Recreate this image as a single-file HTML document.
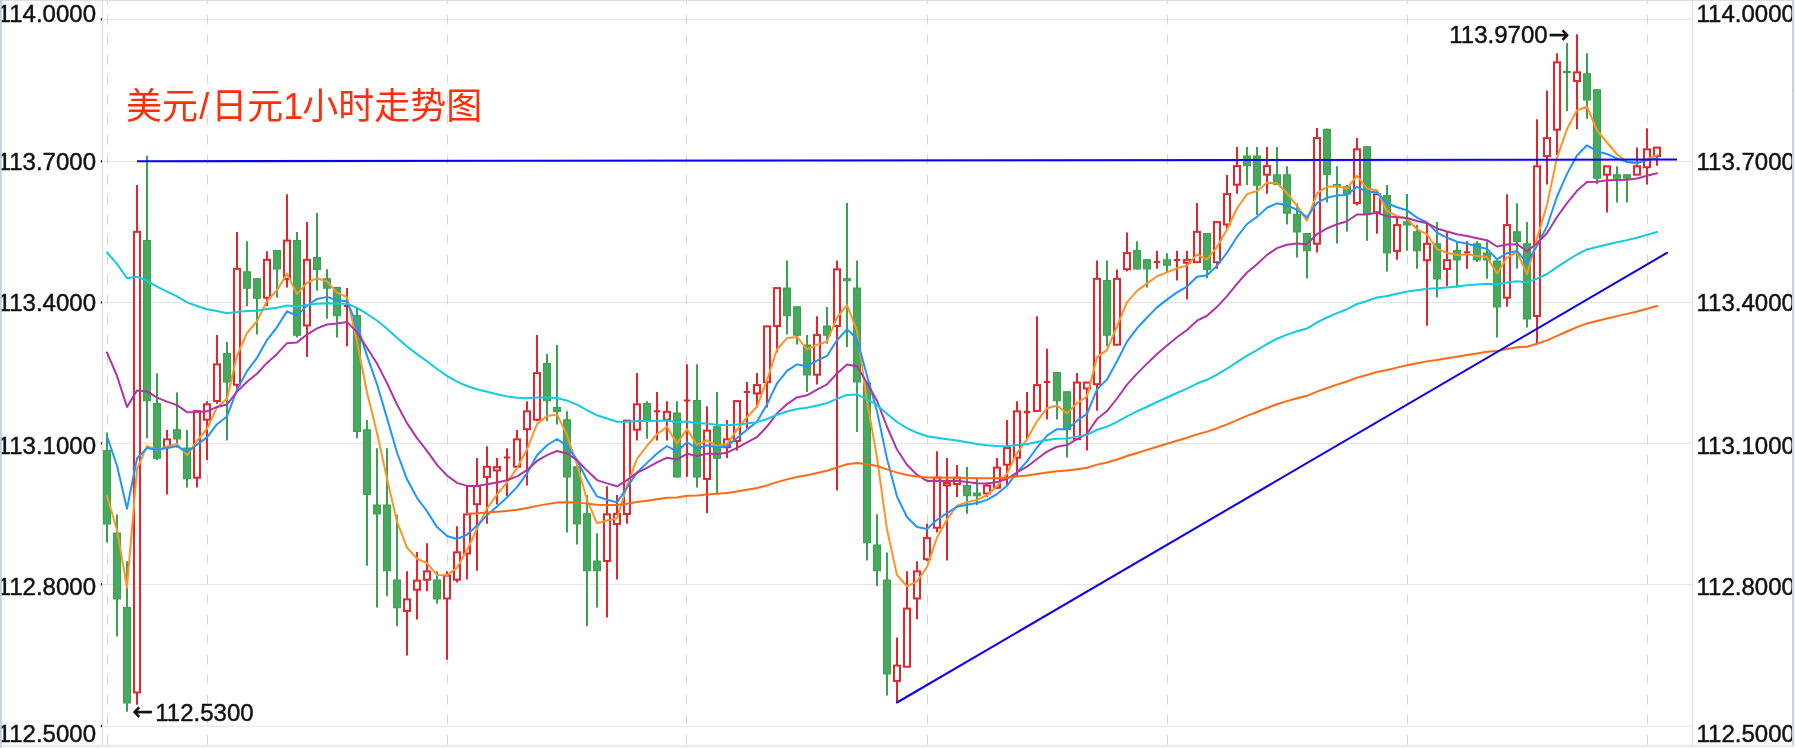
<!DOCTYPE html>
<html lang="zh"><head><meta charset="utf-8"><title>美元/日元1小时走势图</title>
<style>
html,body{margin:0;padding:0;background:#fff;}
body{width:1796px;height:748px;overflow:hidden;}
svg{display:block;will-change:transform;opacity:.9999}
.ax{font-family:"Liberation Sans","Noto Sans CJK SC",sans-serif;font-size:24px;fill:#111;stroke:#111;stroke-width:.45px;}
.an{font-size:24px}
.ar{font-family:"DejaVu Sans",sans-serif;font-size:25px;}
.title{font-family:"Liberation Sans","Noto Sans CJK SC",sans-serif;font-size:36px;fill:#ff2d08;}
</style></head><body>
<svg width="1796" height="748" viewBox="0 0 1796 748">
<rect x="0" y="0" width="1796" height="748" fill="#fff"/>
<path d="M103 19.5H1692" stroke="#e4e4e4" stroke-width="1"/>
<rect x="100.8" y="18.1" width="1.3" height="2.4" fill="#222"/>
<path d="M103 161.5H1692" stroke="#e4e4e4" stroke-width="1"/>
<rect x="100.8" y="160.1" width="1.3" height="2.4" fill="#222"/>
<path d="M103 302.5H1692" stroke="#e4e4e4" stroke-width="1"/>
<rect x="100.8" y="301.1" width="1.3" height="2.4" fill="#222"/>
<path d="M103 443.5H1692" stroke="#e4e4e4" stroke-width="1"/>
<rect x="100.8" y="442.1" width="1.3" height="2.4" fill="#222"/>
<path d="M103 584.5H1692" stroke="#e4e4e4" stroke-width="1"/>
<rect x="100.8" y="583.1" width="1.3" height="2.4" fill="#222"/>
<path d="M103 726.2H1692" stroke="#e4e4e4" stroke-width="1"/>
<rect x="100.8" y="724.8000000000001" width="1.3" height="2.4" fill="#222"/>
<path d="M107.5 744.5V0" stroke="#d6d6d6" stroke-width="1" stroke-dasharray="10 10"/>
<path d="M207.5 744.5V0" stroke="#d6d6d6" stroke-width="1" stroke-dasharray="10 10"/>
<path d="M447.5 744.5V0" stroke="#d6d6d6" stroke-width="1" stroke-dasharray="10 10"/>
<path d="M686.5 744.5V0" stroke="#d6d6d6" stroke-width="1" stroke-dasharray="10 10"/>
<path d="M927.5 744.5V0" stroke="#d6d6d6" stroke-width="1" stroke-dasharray="10 10"/>
<path d="M1167.5 744.5V0" stroke="#d6d6d6" stroke-width="1" stroke-dasharray="10 10"/>
<path d="M1407.5 744.5V0" stroke="#d6d6d6" stroke-width="1" stroke-dasharray="10 10"/>
<path d="M1647.5 744.5V0" stroke="#d6d6d6" stroke-width="1" stroke-dasharray="10 10"/>
<path d="M102.5 1V745" stroke="#dedede" stroke-width="1"/>
<path d="M1692.5 1V745" stroke="#dedede" stroke-width="1"/>
<path d="M107 432.5V542.5" stroke="#39a24d" stroke-width="2"/>
<rect x="103.5" y="450.5" width="7" height="73.5" fill="#47a95d" stroke="#39a24d" stroke-width="1"/>
<path d="M117 514.5V636.5" stroke="#39a24d" stroke-width="2"/>
<rect x="113.5" y="533" width="7" height="66" fill="#47a95d" stroke="#39a24d" stroke-width="1"/>
<path d="M127 561.25V711.75" stroke="#39a24d" stroke-width="2"/>
<rect x="123.5" y="607.5" width="7" height="95.5" fill="#47a95d" stroke="#39a24d" stroke-width="1"/>
<path d="M137 185V231.25" stroke="#e6242b" stroke-width="2"/>
<path d="M137 692.75V704.75" stroke="#e6242b" stroke-width="2"/>
<rect x="134" y="231.85" width="6" height="460.6" fill="#fff" stroke="#e6242b" stroke-width="2"/>
<path d="M147 155.75V438.25" stroke="#39a24d" stroke-width="2"/>
<rect x="143.5" y="240.5" width="7" height="160.25" fill="#47a95d" stroke="#39a24d" stroke-width="1"/>
<path d="M157 373.25V460" stroke="#39a24d" stroke-width="2"/>
<rect x="153.5" y="403.5" width="7" height="54.75" fill="#47a95d" stroke="#39a24d" stroke-width="1"/>
<path d="M167 430V438.75" stroke="#e6242b" stroke-width="2"/>
<path d="M167 447.5V494.5" stroke="#e6242b" stroke-width="2"/>
<rect x="164" y="439.35" width="6" height="7.85" fill="#fff" stroke="#e6242b" stroke-width="2"/>
<path d="M177 392.5V447.5" stroke="#39a24d" stroke-width="2"/>
<rect x="173.5" y="429.75" width="7" height="9.25" fill="#47a95d" stroke="#39a24d" stroke-width="1"/>
<path d="M187 430V487.5" stroke="#39a24d" stroke-width="2"/>
<rect x="183.5" y="448" width="7" height="30.75" fill="#47a95d" stroke="#39a24d" stroke-width="1"/>
<path d="M197 410V410.5" stroke="#e6242b" stroke-width="2"/>
<path d="M197 478V487.5" stroke="#e6242b" stroke-width="2"/>
<rect x="194" y="411.1" width="6" height="66.6" fill="#fff" stroke="#e6242b" stroke-width="2"/>
<path d="M207 401.25V403.75" stroke="#e6242b" stroke-width="2"/>
<path d="M207 420V460" stroke="#e6242b" stroke-width="2"/>
<rect x="204" y="404.35" width="6" height="15.35" fill="#fff" stroke="#e6242b" stroke-width="2"/>
<path d="M217 335V363.75" stroke="#e6242b" stroke-width="2"/>
<path d="M217 401.25V403.75" stroke="#e6242b" stroke-width="2"/>
<rect x="214" y="364.35" width="6" height="36.6" fill="#fff" stroke="#e6242b" stroke-width="2"/>
<path d="M227 342V440.5" stroke="#39a24d" stroke-width="2"/>
<rect x="223.5" y="353.5" width="7" height="28.5" fill="#47a95d" stroke="#39a24d" stroke-width="1"/>
<path d="M237 232V268.25" stroke="#e6242b" stroke-width="2"/>
<path d="M237 385V388.75" stroke="#e6242b" stroke-width="2"/>
<rect x="234" y="268.85" width="6" height="115.85" fill="#fff" stroke="#e6242b" stroke-width="2"/>
<path d="M247 241.25V306.25" stroke="#39a24d" stroke-width="2"/>
<rect x="243.5" y="271.75" width="7" height="16.5" fill="#47a95d" stroke="#39a24d" stroke-width="1"/>
<path d="M257 278.25V334.5" stroke="#39a24d" stroke-width="2"/>
<rect x="253.5" y="278.75" width="7" height="19.5" fill="#47a95d" stroke="#39a24d" stroke-width="1"/>
<path d="M267 251.25V259.25" stroke="#e6242b" stroke-width="2"/>
<path d="M267 298V306" stroke="#e6242b" stroke-width="2"/>
<rect x="264" y="259.85" width="6" height="37.85" fill="#fff" stroke="#e6242b" stroke-width="2"/>
<path d="M277 250V297.5" stroke="#39a24d" stroke-width="2"/>
<rect x="273.5" y="250.5" width="7" height="18.5" fill="#47a95d" stroke="#39a24d" stroke-width="1"/>
<path d="M287 194.25V240" stroke="#e6242b" stroke-width="2"/>
<path d="M287 279.25V287.5" stroke="#e6242b" stroke-width="2"/>
<rect x="284" y="240.6" width="6" height="38.35" fill="#fff" stroke="#e6242b" stroke-width="2"/>
<path d="M297 232V337.5" stroke="#39a24d" stroke-width="2"/>
<rect x="293.5" y="240.5" width="7" height="94.75" fill="#47a95d" stroke="#39a24d" stroke-width="1"/>
<path d="M307 222V259.25" stroke="#e6242b" stroke-width="2"/>
<path d="M307 325.75V357" stroke="#e6242b" stroke-width="2"/>
<rect x="304" y="259.85" width="6" height="65.6" fill="#fff" stroke="#e6242b" stroke-width="2"/>
<path d="M317 213V290.75" stroke="#39a24d" stroke-width="2"/>
<rect x="313.5" y="257.5" width="7" height="12" fill="#47a95d" stroke="#39a24d" stroke-width="1"/>
<path d="M327 269.25V318.75" stroke="#39a24d" stroke-width="2"/>
<rect x="323.5" y="278.75" width="7" height="9.5" fill="#47a95d" stroke="#39a24d" stroke-width="1"/>
<path d="M337 287V337.5" stroke="#39a24d" stroke-width="2"/>
<rect x="333.5" y="287.5" width="7" height="28.25" fill="#47a95d" stroke="#39a24d" stroke-width="1"/>
<path d="M347 288V306" stroke="#e6242b" stroke-width="2"/>
<path d="M347 306V346.25" stroke="#e6242b" stroke-width="2"/>
<path d="M343.8 306H350.2" stroke="#e6242b" stroke-width="2"/>
<path d="M357 307.5V438.25" stroke="#39a24d" stroke-width="2"/>
<rect x="353.5" y="315.5" width="7" height="116" fill="#47a95d" stroke="#39a24d" stroke-width="1"/>
<path d="M367 420V565.75" stroke="#39a24d" stroke-width="2"/>
<rect x="363.5" y="429.75" width="7" height="64.75" fill="#47a95d" stroke="#39a24d" stroke-width="1"/>
<path d="M377 448.25V607.5" stroke="#39a24d" stroke-width="2"/>
<rect x="373.5" y="505" width="7" height="9" fill="#47a95d" stroke="#39a24d" stroke-width="1"/>
<path d="M387 448.25V596.25" stroke="#39a24d" stroke-width="2"/>
<rect x="383.5" y="505" width="7" height="65.75" fill="#47a95d" stroke="#39a24d" stroke-width="1"/>
<path d="M397 514.5V626.25" stroke="#39a24d" stroke-width="2"/>
<rect x="393.5" y="580" width="7" height="27.75" fill="#47a95d" stroke="#39a24d" stroke-width="1"/>
<path d="M407 571.25V598.75" stroke="#e6242b" stroke-width="2"/>
<path d="M407 611.25V655.5" stroke="#e6242b" stroke-width="2"/>
<rect x="404" y="599.35" width="6" height="11.6" fill="#fff" stroke="#e6242b" stroke-width="2"/>
<path d="M417 552V580" stroke="#e6242b" stroke-width="2"/>
<path d="M417 590V619.5" stroke="#e6242b" stroke-width="2"/>
<rect x="414" y="580.6" width="6" height="9.1" fill="#fff" stroke="#e6242b" stroke-width="2"/>
<path d="M427 543.25V570.75" stroke="#e6242b" stroke-width="2"/>
<path d="M427 580V591.25" stroke="#e6242b" stroke-width="2"/>
<rect x="424" y="571.35" width="6" height="8.35" fill="#fff" stroke="#e6242b" stroke-width="2"/>
<path d="M437 571.25V603.75" stroke="#39a24d" stroke-width="2"/>
<rect x="433.5" y="580" width="7" height="19" fill="#47a95d" stroke="#39a24d" stroke-width="1"/>
<path d="M447 571.25V575" stroke="#e6242b" stroke-width="2"/>
<path d="M447 598.75V659.75" stroke="#e6242b" stroke-width="2"/>
<rect x="444" y="575.6" width="6" height="22.85" fill="#fff" stroke="#e6242b" stroke-width="2"/>
<path d="M457 526.25V551.75" stroke="#e6242b" stroke-width="2"/>
<path d="M457 580V582.5" stroke="#e6242b" stroke-width="2"/>
<rect x="454" y="552.35" width="6" height="27.35" fill="#fff" stroke="#e6242b" stroke-width="2"/>
<path d="M467 485.5V513.75" stroke="#e6242b" stroke-width="2"/>
<path d="M467 553.75V579.5" stroke="#e6242b" stroke-width="2"/>
<rect x="464" y="514.35" width="6" height="39.1" fill="#fff" stroke="#e6242b" stroke-width="2"/>
<path d="M477 458V485.5" stroke="#e6242b" stroke-width="2"/>
<path d="M477 504.5V570.75" stroke="#e6242b" stroke-width="2"/>
<rect x="474" y="486.1" width="6" height="18.1" fill="#fff" stroke="#e6242b" stroke-width="2"/>
<path d="M487 446.25V466.25" stroke="#e6242b" stroke-width="2"/>
<path d="M487 477.2V523.75" stroke="#e6242b" stroke-width="2"/>
<rect x="484" y="466.85" width="6" height="10.05" fill="#fff" stroke="#e6242b" stroke-width="2"/>
<path d="M497 458V466.5" stroke="#e6242b" stroke-width="2"/>
<path d="M497 470.75V504.5" stroke="#e6242b" stroke-width="2"/>
<rect x="494" y="467.1" width="6" height="3.35" fill="#fff" stroke="#e6242b" stroke-width="2"/>
<path d="M507 448.25V457.5" stroke="#e6242b" stroke-width="2"/>
<path d="M507 457.5V496.25" stroke="#e6242b" stroke-width="2"/>
<path d="M503.8 457.5H510.2" stroke="#e6242b" stroke-width="2"/>
<path d="M517 430V438.75" stroke="#e6242b" stroke-width="2"/>
<rect x="514" y="439.35" width="6" height="27.35" fill="#fff" stroke="#e6242b" stroke-width="2"/>
<path d="M527 401.25V410.75" stroke="#e6242b" stroke-width="2"/>
<path d="M527 429.5V485.5" stroke="#e6242b" stroke-width="2"/>
<rect x="524" y="411.35" width="6" height="17.85" fill="#fff" stroke="#e6242b" stroke-width="2"/>
<path d="M537 335V372.5" stroke="#e6242b" stroke-width="2"/>
<path d="M537 420V421.25" stroke="#e6242b" stroke-width="2"/>
<rect x="534" y="373.1" width="6" height="46.6" fill="#fff" stroke="#e6242b" stroke-width="2"/>
<path d="M547 354V421.25" stroke="#39a24d" stroke-width="2"/>
<rect x="543.5" y="363.5" width="7" height="37.25" fill="#47a95d" stroke="#39a24d" stroke-width="1"/>
<path d="M557 345V424.5" stroke="#39a24d" stroke-width="2"/>
<rect x="553.5" y="407.5" width="7" height="4" fill="#47a95d" stroke="#39a24d" stroke-width="1"/>
<path d="M567 411.25V532.5" stroke="#39a24d" stroke-width="2"/>
<rect x="563.5" y="419.75" width="7" height="57.25" fill="#47a95d" stroke="#39a24d" stroke-width="1"/>
<path d="M577 466.25V544.5" stroke="#39a24d" stroke-width="2"/>
<rect x="573.5" y="466.75" width="7" height="57.25" fill="#47a95d" stroke="#39a24d" stroke-width="1"/>
<path d="M587 495V626.25" stroke="#39a24d" stroke-width="2"/>
<rect x="583.5" y="513.75" width="7" height="57" fill="#47a95d" stroke="#39a24d" stroke-width="1"/>
<path d="M597 533.25V607.5" stroke="#39a24d" stroke-width="2"/>
<rect x="593.5" y="561" width="7" height="9.75" fill="#47a95d" stroke="#39a24d" stroke-width="1"/>
<path d="M607 486.25V513.75" stroke="#e6242b" stroke-width="2"/>
<path d="M607 561.25V617.5" stroke="#e6242b" stroke-width="2"/>
<rect x="604" y="514.35" width="6" height="46.6" fill="#fff" stroke="#e6242b" stroke-width="2"/>
<path d="M617 495V513.25" stroke="#e6242b" stroke-width="2"/>
<path d="M617 524.25V579.5" stroke="#e6242b" stroke-width="2"/>
<rect x="614" y="513.85" width="6" height="10.1" fill="#fff" stroke="#e6242b" stroke-width="2"/>
<path d="M627 514.25V523.75" stroke="#e6242b" stroke-width="2"/>
<rect x="624" y="420.6" width="6" height="93.35" fill="#fff" stroke="#e6242b" stroke-width="2"/>
<path d="M637 373V403.75" stroke="#e6242b" stroke-width="2"/>
<path d="M637 430V440.5" stroke="#e6242b" stroke-width="2"/>
<rect x="634" y="404.35" width="6" height="25.35" fill="#fff" stroke="#e6242b" stroke-width="2"/>
<path d="M647 401.25V438.75" stroke="#39a24d" stroke-width="2"/>
<rect x="643.5" y="403.5" width="7" height="16.5" fill="#47a95d" stroke="#39a24d" stroke-width="1"/>
<path d="M657 392V411.25" stroke="#e6242b" stroke-width="2"/>
<path d="M657 411.25V440.5" stroke="#e6242b" stroke-width="2"/>
<path d="M653.8 411.25H660.2" stroke="#e6242b" stroke-width="2"/>
<path d="M667 401.25V411.25" stroke="#e6242b" stroke-width="2"/>
<path d="M667 420V440.5" stroke="#e6242b" stroke-width="2"/>
<rect x="664" y="411.85" width="6" height="7.85" fill="#fff" stroke="#e6242b" stroke-width="2"/>
<path d="M677 401.25V477.5" stroke="#39a24d" stroke-width="2"/>
<rect x="673.5" y="413" width="7" height="64" fill="#47a95d" stroke="#39a24d" stroke-width="1"/>
<path d="M687 364.25V400.5" stroke="#e6242b" stroke-width="2"/>
<path d="M687 400.5V476.75" stroke="#e6242b" stroke-width="2"/>
<path d="M683.8 400.5H690.2" stroke="#e6242b" stroke-width="2"/>
<path d="M697 364.25V487.5" stroke="#39a24d" stroke-width="2"/>
<rect x="693.5" y="400.5" width="7" height="76.5" fill="#47a95d" stroke="#39a24d" stroke-width="1"/>
<path d="M707 406.25V430" stroke="#e6242b" stroke-width="2"/>
<path d="M707 479.25V513.25" stroke="#e6242b" stroke-width="2"/>
<rect x="704" y="430.6" width="6" height="48.35" fill="#fff" stroke="#e6242b" stroke-width="2"/>
<path d="M717 392V493.75" stroke="#39a24d" stroke-width="2"/>
<rect x="713.5" y="426.75" width="7" height="31.5" fill="#47a95d" stroke="#39a24d" stroke-width="1"/>
<path d="M727 420V438.75" stroke="#e6242b" stroke-width="2"/>
<path d="M727 447.5V458" stroke="#e6242b" stroke-width="2"/>
<rect x="724" y="439.35" width="6" height="7.85" fill="#fff" stroke="#e6242b" stroke-width="2"/>
<path d="M737 441.25V450.5" stroke="#e6242b" stroke-width="2"/>
<rect x="734" y="401.1" width="6" height="39.85" fill="#fff" stroke="#e6242b" stroke-width="2"/>
<path d="M747 382V392" stroke="#e6242b" stroke-width="2"/>
<path d="M747 392V428.75" stroke="#e6242b" stroke-width="2"/>
<path d="M743.8 392H750.2" stroke="#e6242b" stroke-width="2"/>
<path d="M757 373V384.5" stroke="#e6242b" stroke-width="2"/>
<path d="M757 393.75V407.5" stroke="#e6242b" stroke-width="2"/>
<rect x="754" y="385.1" width="6" height="8.35" fill="#fff" stroke="#e6242b" stroke-width="2"/>
<path d="M767 382.5V407.5" stroke="#e6242b" stroke-width="2"/>
<rect x="764" y="326.35" width="6" height="55.85" fill="#fff" stroke="#e6242b" stroke-width="2"/>
<path d="M777 326.25V352.5" stroke="#e6242b" stroke-width="2"/>
<rect x="774" y="288.1" width="6" height="37.85" fill="#fff" stroke="#e6242b" stroke-width="2"/>
<path d="M787 260.5V334.5" stroke="#39a24d" stroke-width="2"/>
<rect x="783.5" y="288" width="7" height="27.75" fill="#47a95d" stroke="#39a24d" stroke-width="1"/>
<path d="M797 306.25V344.5" stroke="#39a24d" stroke-width="2"/>
<rect x="793.5" y="306.75" width="7" height="28.5" fill="#47a95d" stroke="#39a24d" stroke-width="1"/>
<path d="M807 335V392" stroke="#39a24d" stroke-width="2"/>
<rect x="803.5" y="345" width="7" height="30" fill="#47a95d" stroke="#39a24d" stroke-width="1"/>
<path d="M817 316.25V334.5" stroke="#e6242b" stroke-width="2"/>
<path d="M817 375V384.5" stroke="#e6242b" stroke-width="2"/>
<rect x="814" y="335.1" width="6" height="39.6" fill="#fff" stroke="#e6242b" stroke-width="2"/>
<path d="M827 307V343.75" stroke="#39a24d" stroke-width="2"/>
<rect x="823.5" y="326" width="7" height="9.25" fill="#47a95d" stroke="#39a24d" stroke-width="1"/>
<path d="M837 260.5V268.75" stroke="#e6242b" stroke-width="2"/>
<path d="M837 326.25V490.5" stroke="#e6242b" stroke-width="2"/>
<rect x="834" y="269.35" width="6" height="56.6" fill="#fff" stroke="#e6242b" stroke-width="2"/>
<path d="M847 203V347" stroke="#39a24d" stroke-width="2"/>
<rect x="843.5" y="278.75" width="7" height="2" fill="#47a95d" stroke="#39a24d" stroke-width="1"/>
<path d="M857 260.5V432" stroke="#39a24d" stroke-width="2"/>
<rect x="853.5" y="288" width="7" height="94" fill="#47a95d" stroke="#39a24d" stroke-width="1"/>
<path d="M867 382.5V560.5" stroke="#39a24d" stroke-width="2"/>
<rect x="863.5" y="383" width="7" height="159.75" fill="#47a95d" stroke="#39a24d" stroke-width="1"/>
<path d="M877 514.25V586.25" stroke="#39a24d" stroke-width="2"/>
<rect x="873.5" y="545" width="7" height="25.75" fill="#47a95d" stroke="#39a24d" stroke-width="1"/>
<path d="M887 552.5V695.5" stroke="#39a24d" stroke-width="2"/>
<rect x="883.5" y="580" width="7" height="94" fill="#47a95d" stroke="#39a24d" stroke-width="1"/>
<path d="M897 637.5V665" stroke="#e6242b" stroke-width="2"/>
<path d="M897 681.25V702.5" stroke="#e6242b" stroke-width="2"/>
<rect x="894" y="665.6" width="6" height="15.35" fill="#fff" stroke="#e6242b" stroke-width="2"/>
<path d="M907 571.25V608" stroke="#e6242b" stroke-width="2"/>
<rect x="904" y="608.6" width="6" height="58.1" fill="#fff" stroke="#e6242b" stroke-width="2"/>
<path d="M917 561.25V570.75" stroke="#e6242b" stroke-width="2"/>
<path d="M917 598.75V619.25" stroke="#e6242b" stroke-width="2"/>
<rect x="914" y="571.35" width="6" height="27.1" fill="#fff" stroke="#e6242b" stroke-width="2"/>
<path d="M927 523.75V537.5" stroke="#e6242b" stroke-width="2"/>
<path d="M927 559.5V561" stroke="#e6242b" stroke-width="2"/>
<rect x="924" y="538.1" width="6" height="21.1" fill="#fff" stroke="#e6242b" stroke-width="2"/>
<path d="M937 451.25V477" stroke="#e6242b" stroke-width="2"/>
<path d="M937 528V532.5" stroke="#e6242b" stroke-width="2"/>
<rect x="934" y="477.6" width="6" height="50.1" fill="#fff" stroke="#e6242b" stroke-width="2"/>
<path d="M947 458V482.5" stroke="#e6242b" stroke-width="2"/>
<path d="M947 485.75V560.5" stroke="#e6242b" stroke-width="2"/>
<rect x="944" y="483.1" width="6" height="2.35" fill="#fff" stroke="#e6242b" stroke-width="2"/>
<path d="M957 465V477" stroke="#e6242b" stroke-width="2"/>
<path d="M957 484.25V497" stroke="#e6242b" stroke-width="2"/>
<rect x="954" y="477.6" width="6" height="6.35" fill="#fff" stroke="#e6242b" stroke-width="2"/>
<path d="M967 467V513.75" stroke="#39a24d" stroke-width="2"/>
<rect x="963.5" y="485.5" width="7" height="10.25" fill="#47a95d" stroke="#39a24d" stroke-width="1"/>
<path d="M977 477V505" stroke="#39a24d" stroke-width="2"/>
<rect x="973.5" y="493" width="7" height="2.75" fill="#47a95d" stroke="#39a24d" stroke-width="1"/>
<path d="M987 482.5V485" stroke="#e6242b" stroke-width="2"/>
<path d="M987 493.75V497" stroke="#e6242b" stroke-width="2"/>
<rect x="984" y="485.6" width="6" height="7.85" fill="#fff" stroke="#e6242b" stroke-width="2"/>
<path d="M997 458V467" stroke="#e6242b" stroke-width="2"/>
<path d="M997 488V488.75" stroke="#e6242b" stroke-width="2"/>
<rect x="994" y="467.6" width="6" height="20.1" fill="#fff" stroke="#e6242b" stroke-width="2"/>
<path d="M1007 420V447.5" stroke="#e6242b" stroke-width="2"/>
<path d="M1007 465V485" stroke="#e6242b" stroke-width="2"/>
<rect x="1004" y="448.1" width="6" height="16.6" fill="#fff" stroke="#e6242b" stroke-width="2"/>
<path d="M1017 401.25V410.75" stroke="#e6242b" stroke-width="2"/>
<path d="M1017 458V477" stroke="#e6242b" stroke-width="2"/>
<rect x="1014" y="411.35" width="6" height="46.35" fill="#fff" stroke="#e6242b" stroke-width="2"/>
<path d="M1027 392V412" stroke="#e6242b" stroke-width="2"/>
<path d="M1027 412V440.5" stroke="#e6242b" stroke-width="2"/>
<path d="M1023.8 412H1030.2" stroke="#e6242b" stroke-width="2.5"/>
<path d="M1037 316.25V384.5" stroke="#e6242b" stroke-width="2"/>
<rect x="1034" y="385.1" width="6" height="25.85" fill="#fff" stroke="#e6242b" stroke-width="2"/>
<path d="M1047 348.75V382" stroke="#e6242b" stroke-width="2"/>
<path d="M1047 382V419.5" stroke="#e6242b" stroke-width="2"/>
<path d="M1043.8 382H1050.2" stroke="#e6242b" stroke-width="2"/>
<path d="M1057 372V419.5" stroke="#39a24d" stroke-width="2"/>
<rect x="1053.5" y="372.5" width="7" height="28.25" fill="#47a95d" stroke="#39a24d" stroke-width="1"/>
<path d="M1067 391.25V457.5" stroke="#39a24d" stroke-width="2"/>
<rect x="1063.5" y="391.75" width="7" height="37.75" fill="#47a95d" stroke="#39a24d" stroke-width="1"/>
<path d="M1077 373V382" stroke="#e6242b" stroke-width="2"/>
<rect x="1074" y="382.6" width="6" height="56.6" fill="#fff" stroke="#e6242b" stroke-width="2"/>
<path d="M1087 388.75V450.5" stroke="#e6242b" stroke-width="2"/>
<rect x="1084" y="382.6" width="6" height="5.85" fill="#fff" stroke="#e6242b" stroke-width="2"/>
<path d="M1097 260.5V278.25" stroke="#e6242b" stroke-width="2"/>
<path d="M1097 384.5V410.75" stroke="#e6242b" stroke-width="2"/>
<rect x="1094" y="278.85" width="6" height="105.35" fill="#fff" stroke="#e6242b" stroke-width="2"/>
<path d="M1107 260.5V346.25" stroke="#39a24d" stroke-width="2"/>
<rect x="1103.5" y="280.5" width="7" height="54.75" fill="#47a95d" stroke="#39a24d" stroke-width="1"/>
<path d="M1117 269.5V278.25" stroke="#e6242b" stroke-width="2"/>
<rect x="1114" y="278.85" width="6" height="65.85" fill="#fff" stroke="#e6242b" stroke-width="2"/>
<path d="M1127 232.5V252.5" stroke="#e6242b" stroke-width="2"/>
<path d="M1127 269.5V271.25" stroke="#e6242b" stroke-width="2"/>
<rect x="1124" y="253.1" width="6" height="16.1" fill="#fff" stroke="#e6242b" stroke-width="2"/>
<path d="M1137 241.25V269.5" stroke="#39a24d" stroke-width="2"/>
<rect x="1133.5" y="250.5" width="7" height="18.5" fill="#47a95d" stroke="#39a24d" stroke-width="1"/>
<path d="M1147 259.25V287.5" stroke="#39a24d" stroke-width="2"/>
<rect x="1143.5" y="259.75" width="7" height="9.25" fill="#47a95d" stroke="#39a24d" stroke-width="1"/>
<path d="M1157 250.75V262" stroke="#e6242b" stroke-width="2"/>
<path d="M1157 262V268.75" stroke="#e6242b" stroke-width="2"/>
<path d="M1153.8 262H1160.2" stroke="#e6242b" stroke-width="2"/>
<path d="M1167 253.25V272.5" stroke="#39a24d" stroke-width="2"/>
<rect x="1163.5" y="259.75" width="7" height="5.5" fill="#47a95d" stroke="#39a24d" stroke-width="1"/>
<path d="M1177 250.75V260" stroke="#e6242b" stroke-width="2"/>
<path d="M1177 260V280.5" stroke="#e6242b" stroke-width="2"/>
<path d="M1173.8 260H1180.2" stroke="#e6242b" stroke-width="2"/>
<path d="M1187 250.75V259.25" stroke="#e6242b" stroke-width="2"/>
<path d="M1187 263V299.5" stroke="#e6242b" stroke-width="2"/>
<rect x="1184" y="259.85" width="6" height="2.85" fill="#fff" stroke="#e6242b" stroke-width="2"/>
<path d="M1197 203V231.25" stroke="#e6242b" stroke-width="2"/>
<rect x="1194" y="231.85" width="6" height="30.35" fill="#fff" stroke="#e6242b" stroke-width="2"/>
<path d="M1207 233V278.25" stroke="#39a24d" stroke-width="2"/>
<rect x="1203.5" y="233.5" width="7" height="36" fill="#47a95d" stroke="#39a24d" stroke-width="1"/>
<path d="M1217 262.5V268.75" stroke="#e6242b" stroke-width="2"/>
<rect x="1214" y="222.1" width="6" height="40.1" fill="#fff" stroke="#e6242b" stroke-width="2"/>
<path d="M1227 175V193.5" stroke="#e6242b" stroke-width="2"/>
<path d="M1227 224.75V230" stroke="#e6242b" stroke-width="2"/>
<rect x="1224" y="194.1" width="6" height="30.35" fill="#fff" stroke="#e6242b" stroke-width="2"/>
<path d="M1237 147V165.5" stroke="#e6242b" stroke-width="2"/>
<path d="M1237 185V193.75" stroke="#e6242b" stroke-width="2"/>
<rect x="1234" y="166.1" width="6" height="18.6" fill="#fff" stroke="#e6242b" stroke-width="2"/>
<path d="M1247 147V185" stroke="#39a24d" stroke-width="2"/>
<rect x="1243.5" y="156" width="7" height="9.75" fill="#47a95d" stroke="#39a24d" stroke-width="1"/>
<path d="M1257 147V215" stroke="#39a24d" stroke-width="2"/>
<rect x="1253.5" y="156" width="7" height="29.25" fill="#47a95d" stroke="#39a24d" stroke-width="1"/>
<path d="M1267 147V165.5" stroke="#e6242b" stroke-width="2"/>
<path d="M1267 175V193.75" stroke="#e6242b" stroke-width="2"/>
<rect x="1264" y="166.1" width="6" height="8.6" fill="#fff" stroke="#e6242b" stroke-width="2"/>
<path d="M1277 147V185" stroke="#39a24d" stroke-width="2"/>
<rect x="1273.5" y="174.75" width="7" height="9.75" fill="#47a95d" stroke="#39a24d" stroke-width="1"/>
<path d="M1287 166.25V224.5" stroke="#39a24d" stroke-width="2"/>
<rect x="1283.5" y="174.75" width="7" height="38.5" fill="#47a95d" stroke="#39a24d" stroke-width="1"/>
<path d="M1297 203.5V257.5" stroke="#39a24d" stroke-width="2"/>
<rect x="1293.5" y="214.25" width="7" height="17.75" fill="#47a95d" stroke="#39a24d" stroke-width="1"/>
<path d="M1307 233V278.5" stroke="#39a24d" stroke-width="2"/>
<rect x="1303.5" y="233.5" width="7" height="17.25" fill="#47a95d" stroke="#39a24d" stroke-width="1"/>
<path d="M1317 128V137.5" stroke="#e6242b" stroke-width="2"/>
<path d="M1317 244V252.5" stroke="#e6242b" stroke-width="2"/>
<rect x="1314" y="138.1" width="6" height="105.6" fill="#fff" stroke="#e6242b" stroke-width="2"/>
<path d="M1327 128.75V202.5" stroke="#39a24d" stroke-width="2"/>
<rect x="1323.5" y="129.25" width="7" height="45.25" fill="#47a95d" stroke="#39a24d" stroke-width="1"/>
<path d="M1337 166.25V243.5" stroke="#39a24d" stroke-width="2"/>
<rect x="1333.5" y="184.5" width="7" height="1" fill="#47a95d" stroke="#39a24d" stroke-width="1"/>
<path d="M1347 185V231.5" stroke="#39a24d" stroke-width="2"/>
<rect x="1343.5" y="186.75" width="7" height="7.25" fill="#47a95d" stroke="#39a24d" stroke-width="1"/>
<path d="M1357 138V148.75" stroke="#e6242b" stroke-width="2"/>
<path d="M1357 203.25V205.5" stroke="#e6242b" stroke-width="2"/>
<rect x="1354" y="149.35" width="6" height="53.6" fill="#fff" stroke="#e6242b" stroke-width="2"/>
<path d="M1367 146.25V240.75" stroke="#39a24d" stroke-width="2"/>
<rect x="1363.5" y="146.75" width="7" height="67.75" fill="#47a95d" stroke="#39a24d" stroke-width="1"/>
<path d="M1377 192.5V193.75" stroke="#e6242b" stroke-width="2"/>
<path d="M1377 212.5V233.75" stroke="#e6242b" stroke-width="2"/>
<rect x="1374" y="194.35" width="6" height="17.85" fill="#fff" stroke="#e6242b" stroke-width="2"/>
<path d="M1387 185V271.5" stroke="#39a24d" stroke-width="2"/>
<rect x="1383.5" y="195.5" width="7" height="57.5" fill="#47a95d" stroke="#39a24d" stroke-width="1"/>
<path d="M1397 217.5V224.5" stroke="#e6242b" stroke-width="2"/>
<path d="M1397 251.25V259.75" stroke="#e6242b" stroke-width="2"/>
<rect x="1394" y="225.1" width="6" height="25.85" fill="#fff" stroke="#e6242b" stroke-width="2"/>
<path d="M1407 194V250.75" stroke="#39a24d" stroke-width="2"/>
<rect x="1403.5" y="221.75" width="7" height="3.25" fill="#47a95d" stroke="#39a24d" stroke-width="1"/>
<path d="M1417 224.75V268.75" stroke="#39a24d" stroke-width="2"/>
<rect x="1413.5" y="231.75" width="7" height="19" fill="#47a95d" stroke="#39a24d" stroke-width="1"/>
<path d="M1427 222.5V243.25" stroke="#e6242b" stroke-width="2"/>
<path d="M1427 260.5V325.75" stroke="#e6242b" stroke-width="2"/>
<rect x="1424" y="243.85" width="6" height="16.35" fill="#fff" stroke="#e6242b" stroke-width="2"/>
<path d="M1437 222V297.5" stroke="#39a24d" stroke-width="2"/>
<rect x="1433.5" y="243.75" width="7" height="35.25" fill="#47a95d" stroke="#39a24d" stroke-width="1"/>
<path d="M1447 231.25V259.5" stroke="#e6242b" stroke-width="2"/>
<path d="M1447 269.25V286.25" stroke="#e6242b" stroke-width="2"/>
<rect x="1444" y="260.1" width="6" height="8.85" fill="#fff" stroke="#e6242b" stroke-width="2"/>
<path d="M1457 241.25V287.5" stroke="#39a24d" stroke-width="2"/>
<rect x="1453.5" y="250.5" width="7" height="9.5" fill="#47a95d" stroke="#39a24d" stroke-width="1"/>
<path d="M1467 241.25V252.25" stroke="#e6242b" stroke-width="2"/>
<path d="M1467 252.25V268.75" stroke="#e6242b" stroke-width="2"/>
<path d="M1463.8 252.25H1470.2" stroke="#e6242b" stroke-width="2"/>
<path d="M1477 241.25V262" stroke="#39a24d" stroke-width="2"/>
<rect x="1473.5" y="243.75" width="7" height="16.25" fill="#47a95d" stroke="#39a24d" stroke-width="1"/>
<path d="M1487 241.25V278.75" stroke="#39a24d" stroke-width="2"/>
<rect x="1483.5" y="253" width="7" height="7" fill="#47a95d" stroke="#39a24d" stroke-width="1"/>
<path d="M1497 260.5V337.5" stroke="#39a24d" stroke-width="2"/>
<rect x="1493.5" y="261" width="7" height="46" fill="#47a95d" stroke="#39a24d" stroke-width="1"/>
<path d="M1507 194.25V224.5" stroke="#e6242b" stroke-width="2"/>
<path d="M1507 298V306.75" stroke="#e6242b" stroke-width="2"/>
<rect x="1504" y="225.1" width="6" height="72.6" fill="#fff" stroke="#e6242b" stroke-width="2"/>
<path d="M1517 203.25V268.75" stroke="#39a24d" stroke-width="2"/>
<rect x="1513.5" y="231.75" width="7" height="9.75" fill="#47a95d" stroke="#39a24d" stroke-width="1"/>
<path d="M1527 222V327.5" stroke="#39a24d" stroke-width="2"/>
<rect x="1523.5" y="243.75" width="7" height="75.25" fill="#47a95d" stroke="#39a24d" stroke-width="1"/>
<path d="M1537 119.25V165.75" stroke="#e6242b" stroke-width="2"/>
<path d="M1537 316.25V344.25" stroke="#e6242b" stroke-width="2"/>
<rect x="1534" y="166.35" width="6" height="149.6" fill="#fff" stroke="#e6242b" stroke-width="2"/>
<path d="M1547 90.5V137.5" stroke="#e6242b" stroke-width="2"/>
<path d="M1547 156.25V184.5" stroke="#e6242b" stroke-width="2"/>
<rect x="1544" y="138.1" width="6" height="17.85" fill="#fff" stroke="#e6242b" stroke-width="2"/>
<path d="M1557 53.25V61.75" stroke="#e6242b" stroke-width="2"/>
<path d="M1557 130V155" stroke="#e6242b" stroke-width="2"/>
<rect x="1554" y="62.35" width="6" height="67.35" fill="#fff" stroke="#e6242b" stroke-width="2"/>
<path d="M1567 43V111.25" stroke="#39a24d" stroke-width="2"/>
<rect x="1563.5" y="71.5" width="7" height="1" fill="#47a95d" stroke="#39a24d" stroke-width="1"/>
<path d="M1577 34.25V71.75" stroke="#e6242b" stroke-width="2"/>
<path d="M1577 81.25V129.25" stroke="#e6242b" stroke-width="2"/>
<rect x="1574" y="72.35" width="6" height="8.6" fill="#fff" stroke="#e6242b" stroke-width="2"/>
<path d="M1587 53.25V118.75" stroke="#39a24d" stroke-width="2"/>
<rect x="1583.5" y="73.75" width="7" height="26.25" fill="#47a95d" stroke="#39a24d" stroke-width="1"/>
<path d="M1597 89.25V184.25" stroke="#39a24d" stroke-width="2"/>
<rect x="1593.5" y="89.75" width="7" height="88.5" fill="#47a95d" stroke="#39a24d" stroke-width="1"/>
<path d="M1607 175V212.5" stroke="#e6242b" stroke-width="2"/>
<rect x="1604" y="166.35" width="6" height="8.35" fill="#fff" stroke="#e6242b" stroke-width="2"/>
<path d="M1617 166.25V202.5" stroke="#39a24d" stroke-width="2"/>
<rect x="1613.5" y="174.75" width="7" height="3.5" fill="#47a95d" stroke="#39a24d" stroke-width="1"/>
<path d="M1627 174.25V202.5" stroke="#39a24d" stroke-width="2"/>
<rect x="1623.5" y="174.75" width="7" height="3.5" fill="#47a95d" stroke="#39a24d" stroke-width="1"/>
<path d="M1637 147.5V165.75" stroke="#e6242b" stroke-width="2"/>
<rect x="1634" y="166.35" width="6" height="8.35" fill="#fff" stroke="#e6242b" stroke-width="2"/>
<path d="M1647 128.25V148.75" stroke="#e6242b" stroke-width="2"/>
<path d="M1647 167.5V184.5" stroke="#e6242b" stroke-width="2"/>
<rect x="1644" y="149.35" width="6" height="17.85" fill="#fff" stroke="#e6242b" stroke-width="2"/>
<path d="M1657 156.25V165.75" stroke="#e6242b" stroke-width="2"/>
<rect x="1654" y="147.6" width="6" height="8.35" fill="#fff" stroke="#e6242b" stroke-width="2"/>
<polyline points="107,495.75 117,530 127,587.5 137,469.08 147,446.14 157,450.01 167,446.59 177,443.89 187,455.35 197,440.73 207,428.74 217,407.41 227,398.77 237,355.6 247,332.98 257,321.24 267,300.91 277,290.11 287,273.74 297,294.07 307,282.8 317,278.2 327,281.38 337,292.67 347,297.11 357,341.74 367,392.5 377,432.83 387,478.64 397,521.51 407,547.59 417,558.73 427,563.07 437,574.88 447,575.25 457,567.75 467,550.08 477,528.89 487,508.34 497,494.73 507,482.32 517,468.13 527,449.34 537,424.06 547,416.12 557,414.41 567,435.11 577,464.57 587,499.8 597,523.28 607,520.44 617,518.38 627,485.92 637,458.86 647,445.74 657,434.24 667,426.91 677,443.44 687,429.13 697,444.92 707,440.28 717,446.1 727,443.99 737,429.82 747,417.22 757,406.64 767,380.01 777,349.51 787,338.09 797,336.98 807,349.48 817,344.82 827,341.47 837,317.56 847,305.12 857,330.58 867,401.14 877,457.51 887,529.51 897,575 907,586.34 917,581.47 927,567.15 937,537.43 947,519.46 957,505.64 967,502.17 977,499.87 987,495.24 997,486.16 1007,473.61 1017,452.99 1027,439.24 1037,421.33 1047,408.22 1057,405.56 1067,413.38 1077,403.25 1087,396.5 1097,357.42 1107,349.86 1117,326.32 1127,302.05 1137,290.87 1147,283.41 1157,276.27 1167,272.43 1177,268.29 1187,265.61 1197,254.49 1207,259.33 1217,247.05 1227,229.53 1237,208.52 1247,194.1 1257,190.98 1267,182.82 1277,183.21 1287,193.06 1297,205.87 1307,220.67 1317,193.28 1327,186.85 1337,186.23 1347,188.66 1357,175.69 1367,188.46 1377,190.56 1387,211.2 1397,215.97 1407,218.81 1417,229.29 1427,234.28 1437,249.02 1447,252.85 1457,255.06 1467,254.13 1477,255.92 1487,257.11 1497,273.57 1507,257.55 1517,252.03 1527,274.19 1537,238.38 1547,205.08 1557,157.64 1567,129.09 1577,110.31 1587,106.71 1597,130.39 1607,142.51 1617,154.26 1627,162.09 1637,163.64 1647,159.01 1657,155.34" fill="none" stroke="#ff9326" stroke-width="2" stroke-linejoin="round" stroke-linecap="round"/>
<polyline points="107,436.25 117,465.75 127,508.8 137,458.51 147,447.92 157,449.71 167,447.9 177,446.19 187,452.02 197,444.65 207,437.4 217,424.19 227,416.43 237,389.67 247,371.14 257,357.79 267,340.06 277,327.05 287,311.4 297,315.65 307,305.58 317,298.93 327,296.89 337,300.23 347,301.28 357,324.87 367,355.62 377,384.32 387,418.13 397,452.51 407,479.28 417,497.78 427,511.23 437,527.1 447,535.99 457,539.03 467,534.62 477,525.87 487,515.21 497,506.54 507,497.62 517,487.1 527,473.4 537,455.24 547,445.24 557,439.01 567,445.83 577,459.95 587,480.01 597,496.41 607,499.75 617,502.38 627,487.59 637,472.53 647,462.88 657,453.5 667,446 677,451.54 687,442.26 697,448.49 707,445.31 717,447.57 727,446.15 737,438.03 747,429.66 757,421.63 767,404.38 777,383.31 787,370.94 797,364.36 807,366.2 817,360.62 827,355.92 837,340.25 847,329.34 857,338.82 867,375.81 877,411.16 887,458.86 897,496.52 907,516.97 917,526.93 927,529.04 937,519.76 947,513.16 957,506.77 967,504.68 977,502.96 987,499.88 997,494.08 1007,485.79 1017,472.33 1027,461.32 1037,447.53 1047,435.62 1057,429.19 1067,429.15 1077,420.76 1087,413.9 1097,389.41 1107,379.48 1117,361.25 1127,341.66 1137,328.36 1147,317.48 1157,307.39 1167,299.64 1177,292.43 1187,286.58 1197,276.7 1207,275.3 1217,265.7 1227,252.76 1237,237.07 1247,224.01 1257,216.87 1267,207.72 1277,203.4 1287,205.1 1297,209.9 1307,217.24 1317,202.92 1327,197.66 1337,195.36 1347,195.02 1357,186.79 1367,191.74 1377,192.29 1387,203.23 1397,207.28 1407,210.41 1417,217.66 1427,222.49 1437,232.67 1447,237.73 1457,241.69 1467,243.61 1477,246.5 1487,248.86 1497,259.34 1507,253.19 1517,250.97 1527,263.25 1537,245.71 1547,226.21 1557,196.49 1567,173.86 1577,155.47 1587,145.3 1597,151.2 1607,154.03 1617,158.34 1627,161.87 1637,162.76 1647,160.39 1657,158.14" fill="none" stroke="#1e96ff" stroke-width="2" stroke-linejoin="round" stroke-linecap="round"/>
<polyline points="107,352.5 117,375.93 127,407.03 137,390.38 147,391.32 157,397.65 167,401.66 177,405.17 187,412.13 197,412.07 207,411.37 217,406.93 227,404.51 237,391.63 247,381.73 257,373.74 267,362.93 277,353.93 287,343.18 297,342.38 307,334.55 317,328.31 327,324.45 337,323.57 347,321.9 357,332.29 367,347.69 377,363.48 387,383.17 397,404.51 407,423.11 417,438.15 427,450.87 437,464.93 447,475.51 457,482.86 467,485.9 477,485.96 487,484.18 497,482.59 507,480.2 517,476.35 527,470.19 537,460.99 547,455.2 557,450.99 567,453.42 577,460.1 587,470.59 597,480.08 607,483.38 617,486.32 627,480.1 637,472.92 647,467.84 657,462.45 667,457.67 677,459.46 687,453.84 697,456 707,453.62 717,454.01 727,452.66 737,447.78 747,442.47 757,437.04 767,426.54 777,413.39 787,404.05 797,397.45 807,395.26 817,389.57 827,384.35 837,373.43 847,364.56 857,366.17 867,382.94 877,400.78 887,426.75 897,449.54 907,464.73 917,474.92 927,480.97 937,480.69 947,480.96 957,480.68 967,482.06 977,483.32 987,483.58 997,482.09 1007,478.89 1017,472.5 1027,466.71 1037,458.98 1047,451.65 1057,446.75 1067,445.06 1077,439.15 1087,433.8 1097,419.08 1107,411.05 1117,398.5 1127,384.69 1137,373.62 1147,363.61 1157,353.94 1167,345.44 1177,337.3 1187,329.97 1197,320.66 1207,315.74 1217,306.86 1227,296.16 1237,283.81 1247,272.52 1257,264.16 1267,254.86 1277,248.11 1287,244.74 1297,243.48 1307,244.13 1317,234.07 1327,228.35 1337,224.22 1347,221.29 1357,214.48 1367,214.43 1377,212.56 1387,216.36 1397,217.23 1407,217.92 1417,221 1427,223.22 1437,228.48 1447,231.53 1457,234.2 1467,235.91 1477,238.16 1487,240.19 1497,246.51 1507,244.51 1517,244.17 1527,251.25 1537,243.2 1547,233.23 1557,217 1567,203.19 1577,190.76 1587,182.07 1597,181.66 1607,180.24 1617,180 1627,179.79 1637,178.55 1647,175.8 1657,173.16" fill="none" stroke="#b233a6" stroke-width="2" stroke-linejoin="round" stroke-linecap="round"/>
<polyline points="107,252.5 117,263.84 127,278.23 137,276.72 147,280.77 157,286.57 167,291.59 177,296.41 187,302.37 197,305.95 207,309.19 217,311.01 227,313.32 237,311.88 247,311.09 257,310.65 267,309 277,307.67 287,305.48 297,306.44 307,304.93 317,303.75 327,303.23 337,303.62 347,303.7 357,307.87 367,313.97 377,320.52 387,328.7 397,337.84 407,346.42 417,354.12 427,361.25 437,369.03 447,375.82 457,381.62 467,385.98 477,389.28 487,391.83 497,394.31 507,396.39 517,397.81 527,398.27 537,397.45 547,397.54 557,397.99 567,400.56 577,404.59 587,410.02 597,415.28 607,418.54 617,421.68 627,421.65 637,421.1 647,421.05 657,420.73 667,420.45 677,422.29 687,421.57 697,423.37 707,423.62 717,424.74 727,425.23 737,424.45 747,423.39 757,422.15 767,419.02 777,414.74 787,411.48 797,408.96 807,407.83 817,405.46 827,403.14 837,398.77 847,394.88 857,394.45 867,399.29 877,404.9 887,413.7 897,421.98 907,428.11 917,432.82 927,436.28 937,437.65 947,439.15 957,440.43 967,442.22 977,443.96 987,445.34 997,446.08 1007,446.16 1017,445.03 1027,443.94 1037,442.03 1047,440.06 1057,438.75 1067,438.43 1077,436.62 1087,434.86 1097,429.76 1107,426.64 1117,421.81 1127,416.29 1137,411.45 1147,406.76 1157,402.01 1167,397.51 1177,393 1187,388.65 1197,383.52 1207,379.77 1217,374.61 1227,368.71 1237,362.08 1247,355.62 1257,350.02 1267,344 1277,338.76 1287,334.63 1297,331.25 1307,328.59 1317,322.36 1327,317.49 1337,313.15 1347,309.23 1357,304 1367,301.05 1377,297.56 1387,296.08 1397,293.77 1407,291.5 1417,290.15 1427,288.64 1437,288.31 1447,287.4 1457,286.48 1467,285.36 1477,284.51 1487,283.69 1497,284.44 1507,282.51 1517,281.15 1527,282.37 1537,278.58 1547,273.99 1557,267.06 1567,260.67 1577,254.51 1587,249.42 1597,247.07 1607,244.44 1617,242.25 1627,240.14 1637,237.73 1647,234.85 1657,232" fill="none" stroke="#10cbe2" stroke-width="2" stroke-linejoin="round" stroke-linecap="round"/>
<polyline points="467,513.75 477,513.3 487,512.54 497,511.79 507,510.9 517,509.72 527,508.1 537,505.88 547,504.13 557,502.59 567,502.16 577,502.51 587,503.63 597,504.73 607,504.9 617,505.05 627,503.66 637,502.03 647,500.67 657,499.19 667,497.75 677,497.4 687,495.8 697,495.48 707,494.41 717,493.81 727,492.91 737,491.4 747,489.76 757,488.04 767,485.37 777,482.12 787,479.36 797,476.97 807,475.27 817,472.96 827,470.68 837,467.36 847,464.27 857,462.9 867,464.21 877,465.96 887,469.39 897,472.64 907,474.9 917,476.5 927,477.52 937,477.53 947,477.63 957,477.63 967,477.93 977,478.21 987,478.34 997,478.17 1007,477.68 1017,476.59 1027,475.52 1037,474.03 1047,472.51 1057,471.31 1067,470.61 1077,469.17 1087,467.74 1097,464.63 1107,462.48 1117,459.45 1127,456.05 1137,452.95 1147,449.9 1157,446.79 1167,443.78 1177,440.75 1187,437.76 1197,434.37 1207,431.63 1217,428.18 1227,424.31 1237,420.05 1247,415.84 1257,412.02 1267,407.96 1277,404.26 1287,401.1 1297,398.29 1307,395.84 1317,391.59 1327,387.99 1337,384.64 1347,381.48 1357,377.65 1367,374.94 1377,371.97 1387,369.99 1397,367.6 1407,365.24 1417,363.34 1427,361.37 1437,360 1447,358.35 1457,356.72 1467,354.99 1477,353.42 1487,351.86 1497,351.11 1507,349.04 1517,347.25 1527,346.78 1537,343.8 1547,340.41 1557,335.82 1567,331.46 1577,327.18 1587,323.42 1597,321.01 1607,318.46 1617,316.13 1627,313.85 1637,311.42 1647,308.74 1657,306.09" fill="none" stroke="#ff6a14" stroke-width="2" stroke-linejoin="round" stroke-linecap="round"/>
<path d="M137 161.25L1677 159.5" stroke="#0b00ee" stroke-width="2.05"/>
<path d="M897 702.5L1667 252.8" stroke="#0b00ee" stroke-width="2.05" stroke-linecap="round"/>
<text x="96" y="22.3" text-anchor="end" class="ax">114.0000</text>
<text x="1696.5" y="22.3" class="ax">114.0000</text>
<text x="96" y="170" text-anchor="end" class="ax">113.7000</text>
<text x="1696.5" y="170" class="ax">113.7000</text>
<text x="96" y="311" text-anchor="end" class="ax">113.4000</text>
<text x="1696.5" y="311" class="ax">113.4000</text>
<text x="96" y="454" text-anchor="end" class="ax">113.1000</text>
<text x="1696.5" y="454" class="ax">113.1000</text>
<text x="96" y="594.5" text-anchor="end" class="ax">112.8000</text>
<text x="1696.5" y="594.5" class="ax">112.8000</text>
<text x="96" y="741.5" text-anchor="end" class="ax">112.5000</text>
<text x="1696.5" y="741.5" class="ax">112.5000</text>
<text y="721" class="ax an"><tspan x="132.4" dy="-0.7" class="ar">←</tspan><tspan x="155.3" dy="0.7">112.5300</tspan></text>
<text y="43.2" class="ax an"><tspan x="1449.3">113.9700</tspan><tspan x="1548.3" dy="-0.7" class="ar">→</tspan></text>
<text x="126" y="119.3" class="title">美元<tspan dx="1.3">/</tspan><tspan dx="2">日元1</tspan><tspan dx="-1">小时走势图</tspan></text>
<rect x="0" y="0" width="1796" height="1" fill="#dedede"/>
<rect x="1792" y="0" width="4" height="748" fill="#fff"/>
<rect x="1792" y="0" width="2.2" height="748" fill="#c4d0de"/>
<rect x="1792" y="93" width="4" height="1" fill="#ececec"/>
<rect x="0" y="745" width="1794" height="1" fill="#e2e2e2"/>
<rect x="0" y="746" width="1794" height="2" fill="#eef1f6"/>
<rect x="0" y="0" width="1.8" height="748" fill="#c4cfdc"/>
</svg>
</body></html>
